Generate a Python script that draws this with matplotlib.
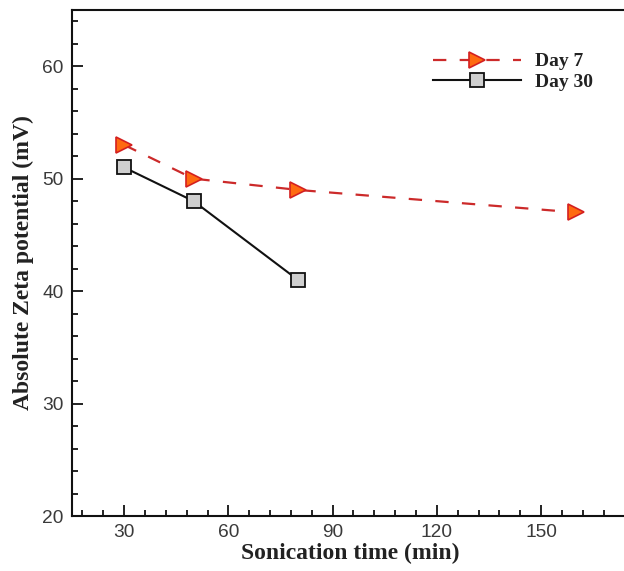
import numpy as np
import matplotlib.pyplot as plt
from matplotlib.ticker import MultipleLocator

# data
time_day7 = [30, 50, 80, 160]
zeta_day7 = [53, 50, 49, 47]
time_day30 = [30, 50, 80]
zeta_day30 = [51, 48, 41]

fig = plt.figure(figsize=(6.24, 5.71), dpi=100)
ax = fig.add_axes([0.1154, 0.0963, 0.891, 0.8862])

ax.plot(time_day7, zeta_day7, linestyle=(0, (6, 6)), color='#cc2a2a', lw=1.6,
        marker='>', markersize=12, markerfacecolor='#ff6a10',
        markeredgecolor='#d42020', markeredgewidth=1.2, label='Day 7')
ax.plot(time_day30, zeta_day30, linestyle='-', color='#111111', lw=1.5,
        marker='s', markersize=10, markerfacecolor='#cfcfcf',
        markeredgecolor='#111111', markeredgewidth=1.3, label='Day 30')

ax.set_xlim(15, 175)
ax.set_ylim(20, 65)
ax.set_xticks([30, 60, 90, 120, 150])
ax.set_yticks([20, 30, 40, 50, 60])
ax.xaxis.set_minor_locator(MultipleLocator(6))
ax.yaxis.set_minor_locator(MultipleLocator(2))
ax.tick_params(which='both', direction='in', top=False, right=False,
               width=1.3, colors='#111111', labelcolor='#3a3a3a')
ax.tick_params(which='major', length=8, labelsize=13.8, pad=6)
ax.tick_params(which='minor', length=4)
for lab in ax.get_xticklabels() + ax.get_yticklabels():
    lab.set_family('Liberation Sans')

for s in ax.spines.values():
    s.set_linewidth(1.5)
    s.set_color('#111111')
ax.spines['right'].set_visible(False)

ax.set_xlabel('Sonication time (min)', family='Liberation Serif',
              fontweight='bold', fontsize=17, color='#222222', labelpad=1)
ax.set_ylabel('Absolute Zeta potential (mV)', family='Liberation Serif',
              fontweight='bold', fontsize=17, color='#222222', labelpad=6)

leg = ax.legend(loc='upper right', bbox_to_anchor=(603 / 624, 1 - 43 / 571),
                bbox_transform=fig.transFigure, frameon=False, borderpad=0,
                handlelength=4.5, handletextpad=0.75, labelspacing=0.15,
                prop={'family': 'Liberation Serif', 'weight': 'bold', 'size': 14})
for t in leg.get_texts():
    t.set_color('#222222')

plt.savefig('out.png', dpi=100)
